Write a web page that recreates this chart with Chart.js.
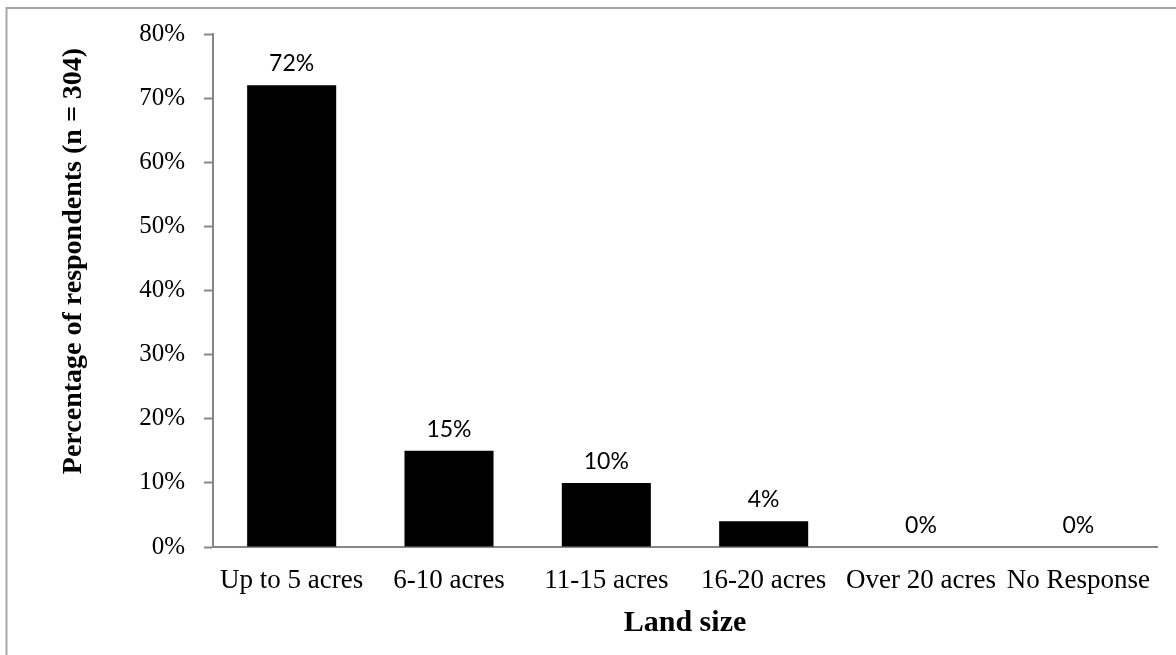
<!DOCTYPE html>
<html>
<head>
<meta charset="utf-8">
<title>Land size of respondents</title>
<script src="https://cdn.jsdelivr.net/npm/chart.js@4.4.1/dist/chart.umd.min.js"></script>
<style>
  html, body { margin: 0; padding: 0; background: #ffffff; }
  #wrap { position: relative; width: 1176px; height: 655px; }
  canvas { display: block; }
</style>
</head>
<body>
<div id="wrap"><canvas id="chart" width="1176" height="655"></canvas></div>
<script>
// Share of respondents by land size (n = 304)
const categories = ['Up to 5 acres', '6-10 acres', '11-15 acres', '16-20 acres', 'Over 20 acres', 'No Response'];
const percentages = [72, 15, 10, 4, 0, 0];
const yTickValues = [0, 10, 20, 30, 40, 50, 60, 70, 80];

const xTitle = 'Land size';
const yTitle = 'Percentage of respondents (n = 304)';

const AXIS_GREY = '#868686';
const SERIF = '"Liberation Serif", "Times New Roman", serif';

// Frame around the figure (top and left edges)
const framePlugin = {
  id: 'frame',
  beforeDraw(chart) {
    const ctx = chart.ctx;
    ctx.save();
    ctx.fillStyle = '#ffffff';
    ctx.fillRect(0, 0, chart.width, chart.height);
    ctx.strokeStyle = '#a6a6a6';
    ctx.lineWidth = 2;
    ctx.beginPath();
    ctx.moveTo(6.5, chart.height + 2);
    ctx.lineTo(6.5, 8);
    ctx.lineTo(chart.width + 2, 8);
    ctx.stroke();
    ctx.restore();
  }
};

// Value labels above each bar
const valueLabelPlugin = {
  id: 'valueLabels',
  afterDatasetsDraw(chart) {
    const ctx = chart.ctx;
    const meta = chart.getDatasetMeta(0);
    ctx.save();
    ctx.font = '23px Lato, "Open Sans", sans-serif';
    ctx.fillStyle = '#000000';
    ctx.textAlign = 'center';
    ctx.textBaseline = 'alphabetic';
    meta.data.forEach((bar, i) => {
      const v = chart.data.datasets[0].data[i];
      ctx.fillText(v + '%', bar.x, bar.y - 14);
    });
    ctx.restore();
  }
};

// Rotated y-axis title
const yTitlePlugin = {
  id: 'yTitle',
  afterDraw(chart) {
    const ctx = chart.ctx;
    ctx.save();
    ctx.translate(74, 261);
    ctx.rotate(-Math.PI / 2);
    ctx.font = 'bold 28px ' + SERIF;
    ctx.fillStyle = '#000000';
    ctx.textAlign = 'center';
    ctx.textBaseline = 'middle';
    ctx.fillText(yTitle, 0, 0);
    ctx.restore();
  }
};

new Chart(document.getElementById('chart'), {
  type: 'bar',
  data: {
    labels: categories,
    datasets: [{
      data: percentages,
      backgroundColor: '#000000',
      borderWidth: 0,
      categoryPercentage: 1.0,
      barPercentage: 0.566
    }]
  },
  options: {
    responsive: false,
    animation: false,
    devicePixelRatio: 1,
    layout: { padding: { top: 33, right: 19, left: 0, bottom: 0 } },
    plugins: {
      legend: { display: false },
      tooltip: { enabled: false }
    },
    scales: {
      x: {
        grid: { display: false, drawTicks: false },
        border: { color: AXIS_GREY, width: 2 },
        ticks: {
          color: '#000000',
          font: { family: SERIF, size: 27 },
          padding: 18,
          maxRotation: 0,
          autoSkip: false
        },
        title: {
          display: true,
          text: xTitle,
          color: '#000000',
          font: { family: SERIF, size: 30, weight: 'bold' },
          padding: { top: 0, bottom: 14 }
        },
        afterFit(scale) { scale.height = 108; }
      },
      y: {
        min: 0,
        max: 80,
        afterBuildTicks(scale) {
          scale.ticks = yTickValues.map(v => ({ value: v }));
        },
        grid: {
          drawOnChartArea: false,
          drawTicks: true,
          tickLength: 9,
          tickWidth: 2,
          color: AXIS_GREY
        },
        border: { color: AXIS_GREY, width: 2 },
        ticks: {
          color: '#000000',
          font: { family: SERIF, size: 25 },
          padding: 19,
          callback: v => v + '%'
        },
        afterFit(scale) { scale.width = 213; }
      }
    }
  },
  plugins: [framePlugin, valueLabelPlugin, yTitlePlugin]
});
</script>
</body>
</html>
